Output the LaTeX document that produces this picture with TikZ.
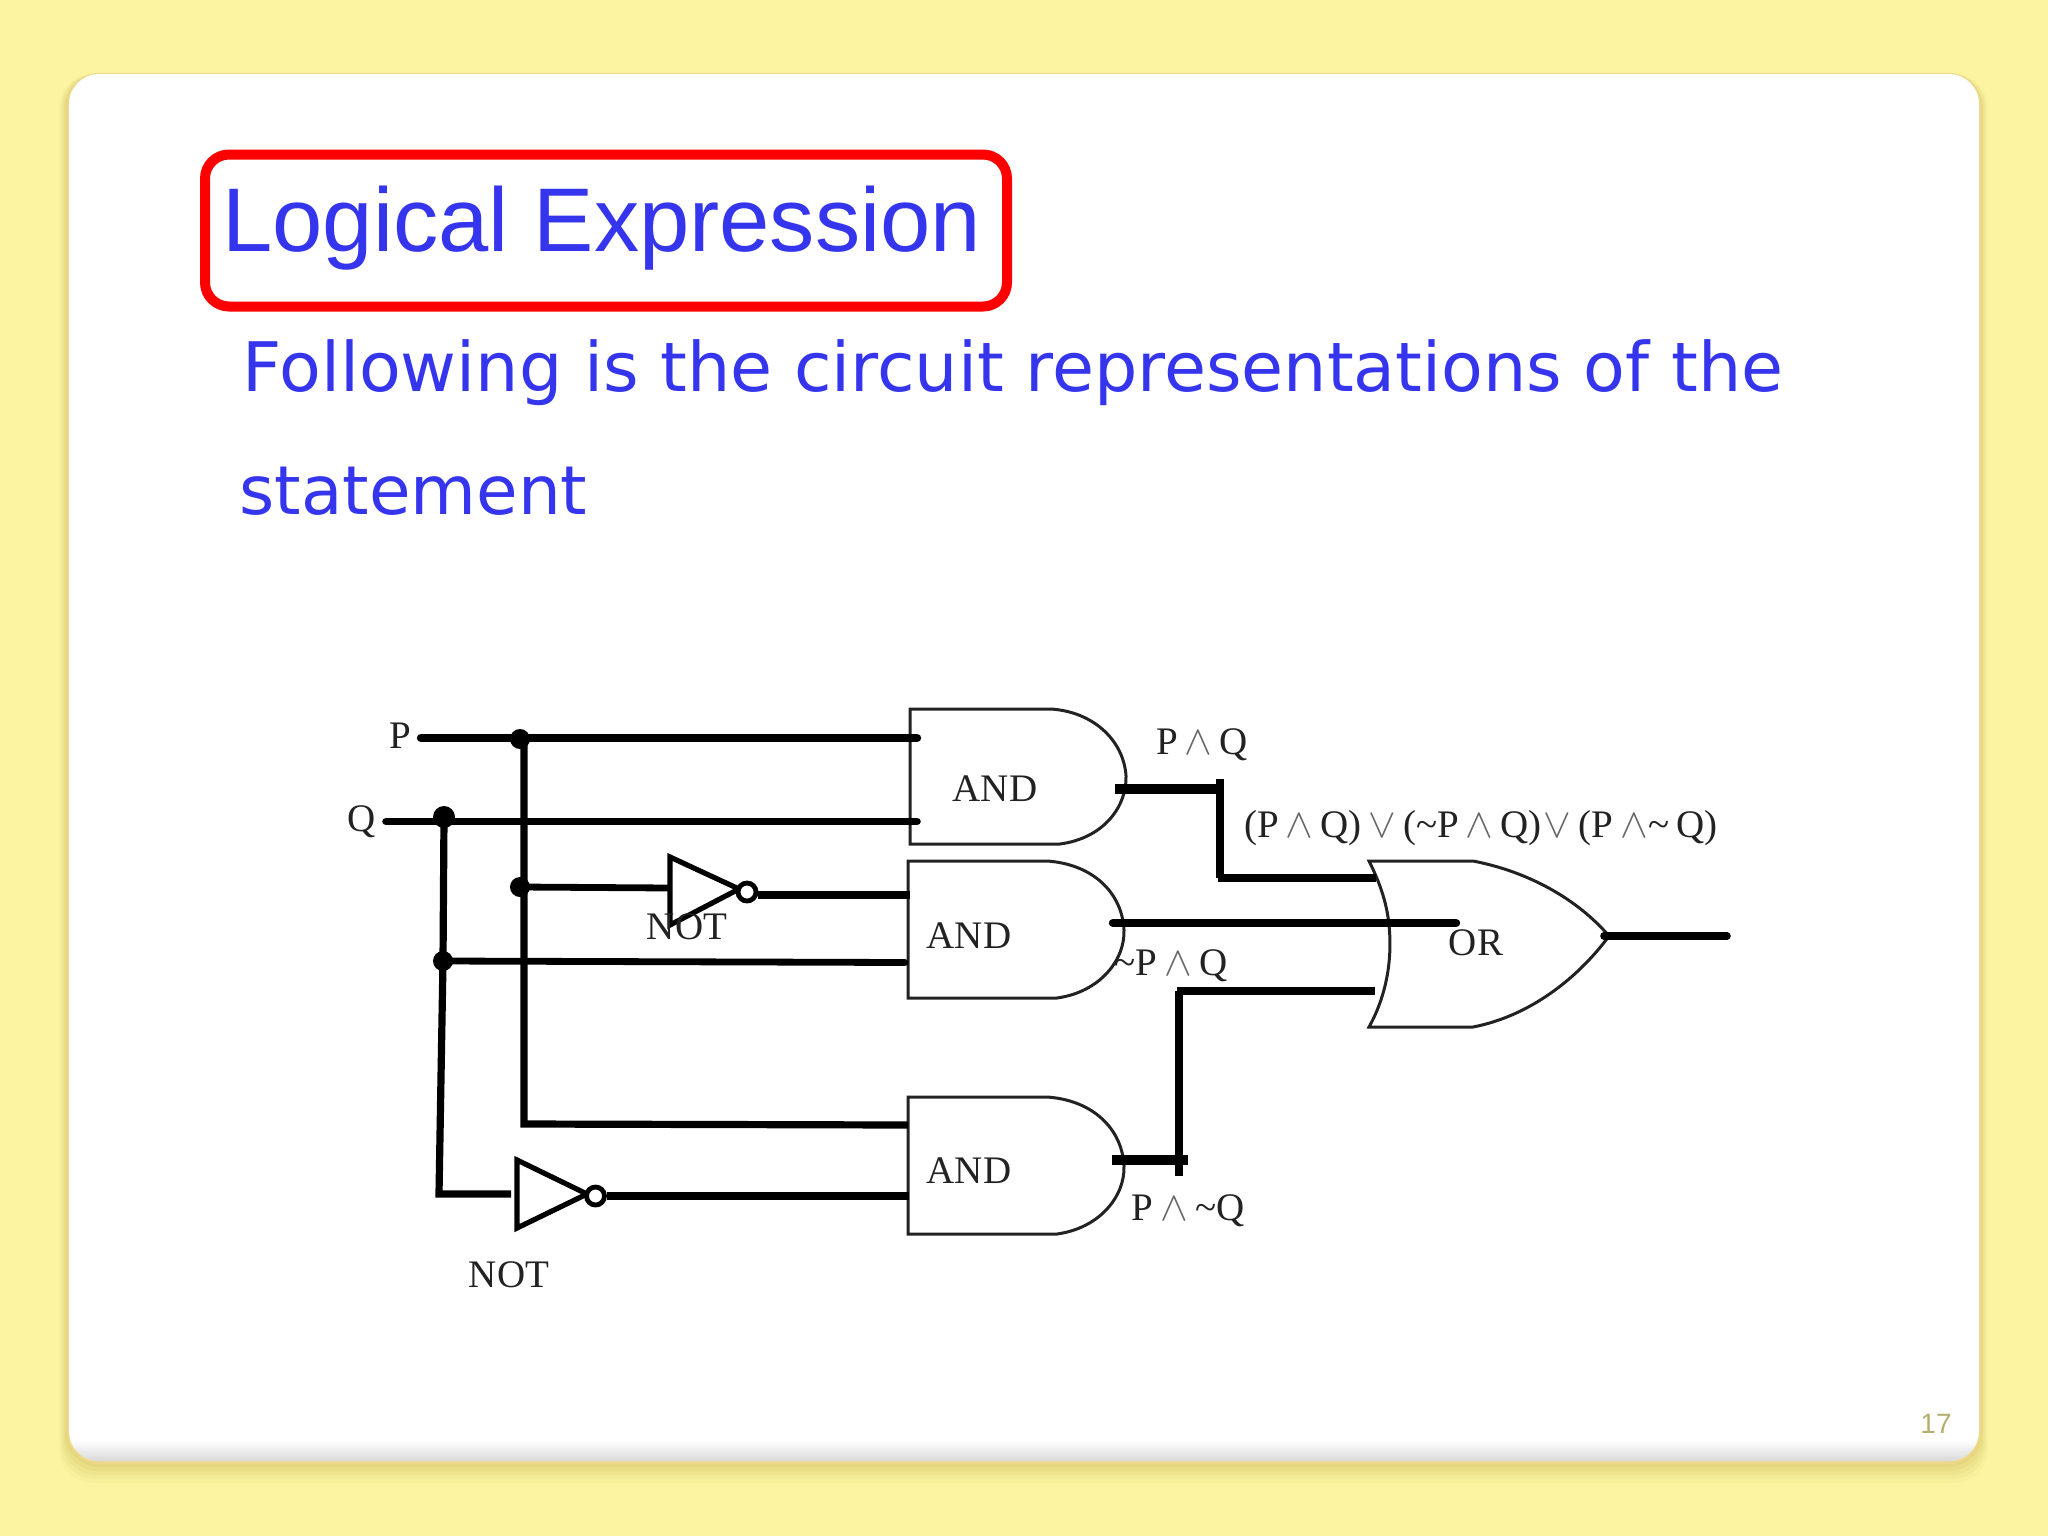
\documentclass[tikz,border=0pt]{standalone}
\usepackage{fontspec}
\setmainfont{Liberation Serif}
\newfontfamily\arialf{Liberation Sans}
\newfontfamily\dejaf{DejaVu Sans}
\usetikzlibrary{calc}
\definecolor{bgY}{HTML}{FCF4A0}
\definecolor{ttl}{HTML}{3535EE}
\definecolor{numc}{HTML}{B4B070}
\definecolor{ink}{HTML}{222222}
\tikzset{
  wire/.style={line width=4.2pt,black,line cap=round},
  thinwire/.style={line width=3.6pt,black,line join=miter},
  gate/.style={line width=1.5pt,ink,line join=miter},
  notgate/.style={line width=2.6pt,black,line join=miter},
  bubble/.style={circle,draw=black,fill=white,line width=2.4pt,minimum size=9pt,inner sep=0pt},
  dotj/.style={circle,fill=black,inner sep=0pt,minimum size=10pt},
  lbl/.style={font=\fontsize{19.5}{19.5}\selectfont,text=ink,inner sep=0pt},
}
\newcommand{\wdgsym}{\hspace{3.5pt}{\color{black!60}$\wedge$}\hspace{3.5pt}}
\newcommand{\veesym}{\hspace{3.5pt}{\color{black!60}$\vee$}\hspace{3.5pt}}
\begin{document}
\begin{tikzpicture}[x=0.5pt,y=-0.5pt]
\useasboundingbox (0,0) rectangle (2048,1536);
\fill[bgY] (0,0) rectangle (2048,1536);
% card shadow
\foreach \o/\op in {22/0.05,18/0.07,14/0.08,10/0.10,6/0.12}{
  \fill[black!30!yellow!60!brown,opacity=\op,rounded corners=17pt]
    (68-\o*0.4,74) rectangle (1979+\o*0.4,1461+\o);
}
\fill[bgY!75!brown,rounded corners=16pt] (67,73) rectangle (1981,1464);
% card
\fill[white,rounded corners=15pt] (69,74) rectangle (1979,1461);
\begin{scope}
  \clip[rounded corners=15pt] (69,74) rectangle (1979,1461);
  \shade[top color=white,bottom color=black!15!white] (60,1440) rectangle (1990,1461);
\end{scope}
% title
\node[draw=red,line width=5pt,rounded corners=12pt,minimum width=401pt,minimum height=76pt,inner sep=0pt] (titlebox) at (606,230.5) {};
\node[anchor=base west,inner sep=0pt,text=ttl,font=\arialf\fontsize{45.2}{45.2}\selectfont] (title) at (222,251) {Logical Expression};
\node[anchor=base west,inner sep=0pt,text=ttl,font=\dejaf\fontsize{34.15}{34.15}\selectfont] (body1) at (242,391) {Following is the circuit representations of the};
\node[anchor=base west,inner sep=0pt,text=ttl,font=\dejaf\fontsize{33.8}{33.8}\selectfont] (body2) at (239,514) {statement};
\node[anchor=center,inner sep=0pt,text=numc,font=\arialf\fontsize{14}{14}\selectfont] (pagenum) at (1936,1424) {17};

% gates
\draw[gate] (1051,709) -- (910,709) -- (910,844) -- (1060,844)
   .. controls (1105,838) and (1127,805) .. (1126,776)
   .. controls (1124,742) and (1095,712) .. (1051,709);
\draw[gate] (1047,861) -- (908,861) -- (908,998) -- (1057,998)
   .. controls (1100,992) and (1125,960) .. (1124,930)
   .. controls (1122,892) and (1092,864) .. (1047,861);
\draw[gate] (1047,1097) -- (908,1097) -- (908,1234) -- (1057,1234)
   .. controls (1100,1228) and (1125,1196) .. (1124,1166)
   .. controls (1122,1128) and (1092,1100) .. (1047,1097);
\draw[gate] (1369,861) -- (1473,861)
   .. controls (1530,872) and (1578,900) .. (1609,936)
   .. controls (1578,978) and (1530,1016) .. (1473,1027)
   -- (1369,1027)
   .. controls (1384,1000) and (1393,965) .. (1389,925)
   .. controls (1387,905) and (1381,885) .. (1369,861) -- cycle;
\node[lbl] (and1) at (995,789) {AND};
\node[lbl] (and2) at (969,936) {AND};
\node[lbl] (and3) at (969,1171) {AND};
\node[lbl] (orl) at (1476,943) {OR};

% junctions and wire ends
\coordinate (pS) at (421,738);
\coordinate (pE) at (917,738);
\coordinate (qS) at (386,821.5);
\coordinate (qE) at (917,821.5);
\node[dotj] (jP) at (520,739) {};
\node[dotj,minimum size=9pt,minimum height=11pt] (jQ) at (444,817) {};
\node[dotj] (jN) at (520,887) {};
\node[dotj,minimum size=8pt,minimum height=10pt] (jQ2) at (443,961) {};
\coordinate (pD) at (524,738);
\coordinate (pB) at (524,1124);
\coordinate (a3in1) at (908,1125);
\coordinate (qB) at (439,1194);
\coordinate (n2in) at (511,1194);

\draw[wire] (pS) -- (pE);
\draw[wire,line width=3.8pt] (qS) -- (qE);
\draw[thinwire] (pD) -- (pB) -- (a3in1);
\draw[thinwire] (jQ.center) -- (jQ2.center) -- (qB) -- (n2in);
\coordinate (a2in2) at (905,962.5);
\draw[wire,line width=3.4pt] (jQ2.center) -- (a2in2);

% NOT 1
\coordinate (n1a) at (670,857);
\coordinate (n1b) at (670,925);
\coordinate (n1c) at (739,889);
\draw[notgate] (n1a) -- (n1c) -- (n1b) -- cycle;
\node[bubble] (b1) at (747,892) {};
\coordinate (a2in1) at (910,895);
\coordinate (n1in) at (670,888);
\draw[wire,line width=3.4pt,line cap=butt] (jN.center) -- (n1in);
\draw[wire,line width=3.8pt,line cap=butt] (b1.east) ++(0,3) -- (a2in1);
% NOT 2
\coordinate (n2a) at (517,1160);
\coordinate (n2b) at (517,1228);
\coordinate (n2c) at (587,1194);
\draw[notgate] (n2a) -- (n2c) -- (n2b) -- cycle;
\node[bubble] (b2) at (595.5,1196) {};
\coordinate (a3in2) at (909,1196);
\draw[wire,line width=3.6pt,line cap=butt] (b2.east) -- (a3in2);

% outputs
\coordinate (o1s) at (1115,789);
\coordinate (o1m) at (1221,789);
\coordinate (o1t) at (1220,779);
\coordinate (o1b) at (1220,878);
\coordinate (o1e) at (1376,878);
\draw[wire,line width=4.6pt,line cap=butt] (o1s) -- (o1m);
\draw[thinwire] (o1t) -- (o1b);
\draw[wire,line width=4.2pt,line cap=butt] ([xshift=-1pt]o1b) -- (o1e);
\coordinate (o2s) at (1113,923);
\coordinate (o2e) at (1456,923);
\draw[wire,line width=4.2pt] (o2s) -- (o2e);
\coordinate (o3s) at (1112,1160);
\coordinate (o3e) at (1188,1160);
\coordinate (o3t) at (1179,1176);
\coordinate (o3m) at (1179,991);
\coordinate (o3f) at (1375,991);
\draw[wire,line width=4.6pt,line cap=butt] (o3s) -- (o3e);
\draw[thinwire] (o3t) -- (o3m);
\draw[wire,line width=4.2pt,line cap=butt] ([xshift=-1pt]o3m) -- (o3f);
\coordinate (ors) at (1604,936);
\coordinate (ore) at (1727,936);
\draw[wire,line width=3.8pt] (ors) -- (ore);

% labels
\node[lbl] (lp) at (400,736) {P};
\node[lbl] (lq) at (362,822) {Q};
\node[lbl] (ln1) at (687,927) {NOT};
\node[lbl] (ln2) at (509,1275) {NOT};
\node[lbl] (l1) at (1202,745) {P\wdgsym Q};
\node[lbl] (l2) at (1171,966) {\textasciitilde P\wdgsym Q};
\node[lbl] (l3) at (1188,1211) {P\wdgsym\textasciitilde Q};
\node[lbl] (lx) at (1481,828) {(P\wdgsym Q)\veesym(\textasciitilde P\wdgsym Q)\hspace{1pt}{\color{black!60}$\vee$}\hspace{3.5pt}(P\wdgsym\hspace{-3pt}\textasciitilde\hspace{3.5pt}Q)};
\end{tikzpicture}
\end{document}
